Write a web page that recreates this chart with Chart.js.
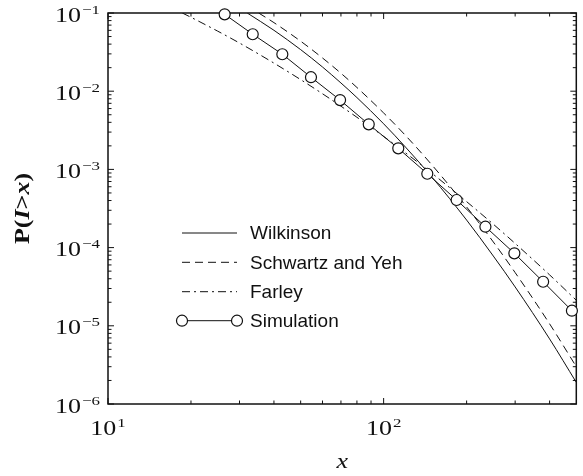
<!DOCTYPE html>
<html>
<head>
<meta charset="utf-8">
<script src="https://cdn.jsdelivr.net/npm/chart.js@4.4.1/dist/chart.umd.min.js"></script>
<style>
  html, body { margin: 0; padding: 0; background: #fff; }
  #wrap { width: 583px; height: 476px; }
</style>
</head>
<body>
<div id="wrap"><canvas id="chart" width="583" height="476"></canvas></div>
<script>
// simulation (circles)
const simX = [26.5, 33.5, 42.9, 54.5, 69.5, 88.3, 113, 144, 184, 234, 298, 379, 482];
const simY = [0.0962, 0.0535, 0.0297, 0.0151, 0.0077, 0.00377, 0.00186, 0.00088, 0.000406, 0.000185, 0.0000845, 0.0000366, 0.0000156];

// Wilkinson (solid)
const wilkX = [32, 40, 50, 60, 70, 80, 100, 120, 150, 200, 250, 300, 400, 500];
const wilkY = [0.1, 0.0601, 0.034, 0.0204, 0.01274, 0.00829, 0.00383, 0.00193, 0.00079, 0.000225, 0.000078, 0.0000314, 0.0000068, 0.00000189];

// Schwartz and Yeh (dashed)
const syX = [35.2, 40, 50, 60, 70, 80, 100, 120, 150, 200, 250, 300, 400, 500];
const syY = [0.1, 0.0753, 0.0436, 0.0266, 0.01696, 0.01116, 0.00527, 0.00272, 0.00113, 0.000331, 0.000118, 0.0000479, 0.0000106, 0.000003];

// Farley (dash-dot)
const farX = [18.6, 20, 25, 30, 40, 50, 60, 70, 80, 100, 120, 150, 200, 250, 300, 400, 500];
const farY = [0.1, 0.0881, 0.0586, 0.0413, 0.02286, 0.01406, 0.00928, 0.00643, 0.00464, 0.00264, 0.00163, 0.000887, 0.000387, 0.000199, 0.000113, 0.0000448, 0.0000212];

// axes
const xMajor = [10, 100];
const xMajorExp = ['1', '2'];
const xMinor = [20, 30, 40, 50, 60, 70, 80, 90, 200, 300, 400];
const yMajor = [1e-6, 1e-5, 1e-4, 1e-3, 1e-2, 1e-1];
const yMajorExp = ['\u22126', '\u22125', '\u22124', '\u22123', '\u22122', '\u22121'];
const yMinorMult = [2, 3, 4, 5, 6, 7, 8, 9];

const legendNames = ['Wilkinson', 'Schwartz and Yeh', 'Farley', 'Simulation'];

const serif = '"Liberation Serif", "Times New Roman", serif';
const sans = '"Liberation Sans", Arial, Helvetica, sans-serif';
const STRETCH = 1.3;

const pts = (xs, ys) => xs.map((x, i) => ({ x: x, y: ys[i] }));

function drawPow(ctx, x, baseY, exp, anchor) {
    ctx.font = '20px ' + serif;
    const wb = ctx.measureText('10').width * STRETCH;
    ctx.font = '13px ' + serif;
    const we = ctx.measureText(exp).width * STRETCH;
    const total = wb + 1 + we;
    const left = anchor === 'right' ? x - total : x - total / 2;
    ctx.save();
    ctx.translate(left, baseY);
    ctx.scale(STRETCH, 1);
    ctx.font = '20px ' + serif;
    ctx.fillText('10', 0, 0);
    ctx.restore();
    ctx.save();
    ctx.translate(left + wb + 1, baseY - 8);
    ctx.scale(STRETCH, 1);
    ctx.font = '13px ' + serif;
    ctx.fillText(exp, 0, 0);
    ctx.restore();
}

const framePlugin = {
    id: 'frame',
    beforeDatasetsDraw(chart) {
        const ctx = chart.ctx;
        const a = chart.chartArea;
        const xs = chart.scales.x;
        const ys = chart.scales.y;
        ctx.save();
        ctx.strokeStyle = '#111';
        ctx.lineWidth = 1.5;
        ctx.strokeRect(a.left, a.top, a.right - a.left, a.bottom - a.top);

        ctx.lineWidth = 1;
        ctx.beginPath();
        xMajor.forEach(v => {
            const p = xs.getPixelForValue(v);
            ctx.moveTo(p, a.bottom); ctx.lineTo(p, a.bottom - 6);
            ctx.moveTo(p, a.top); ctx.lineTo(p, a.top + 6);
        });
        xMinor.forEach(v => {
            const p = xs.getPixelForValue(v);
            ctx.moveTo(p, a.bottom); ctx.lineTo(p, a.bottom - 3.5);
            ctx.moveTo(p, a.top); ctx.lineTo(p, a.top + 3.5);
        });
        yMajor.forEach(v => {
            const p = ys.getPixelForValue(v);
            ctx.moveTo(a.left, p); ctx.lineTo(a.left + 6, p);
            ctx.moveTo(a.right, p); ctx.lineTo(a.right - 6, p);
        });
        yMajor.slice(0, -1).forEach(v => {
            yMinorMult.forEach(m => {
                const p = ys.getPixelForValue(v * m);
                ctx.moveTo(a.left, p); ctx.lineTo(a.left + 3.5, p);
                ctx.moveTo(a.right, p); ctx.lineTo(a.right - 3.5, p);
            });
        });
        ctx.stroke();

        // tick labels
        ctx.fillStyle = '#111';
        ctx.textBaseline = 'alphabetic';
        ctx.textAlign = 'left';
        yMajor.forEach((v, i) => {
            const p = ys.getPixelForValue(v);
            drawPow(ctx, a.left - 8, p + 8.5, yMajorExp[i], 'right');
        });
        xMajor.forEach((v, i) => {
            const p = xs.getPixelForValue(v);
            drawPow(ctx, p, a.bottom + 31, xMajorExp[i], 'center');
        });

        // axis titles
        ctx.save();
        ctx.translate((a.left + a.right) / 2, 468);
        ctx.scale(STRETCH, 1);
        ctx.font = 'italic 20px ' + serif;
        ctx.textAlign = 'center';
        ctx.fillText('x', 0, 0);
        ctx.restore();

        const parts = [['P(', 'bold '], ['I', 'bold italic '], ['>', 'bold '], ['x', 'bold italic '], [')', 'bold ']];
        let w = 0;
        parts.forEach(pt => { ctx.font = pt[1] + '20px ' + serif; w += ctx.measureText(pt[0]).width; });
        ctx.save();
        ctx.translate(29, (a.top + a.bottom) / 2);
        ctx.rotate(-Math.PI / 2);
        ctx.scale(STRETCH, 1);
        let cx = -w / 2;
        parts.forEach(pt => {
            ctx.font = pt[1] + '20px ' + serif;
            ctx.fillText(pt[0], cx, 0);
            cx += ctx.measureText(pt[0]).width;
        });
        ctx.restore();
        ctx.restore();
    },
    afterDatasetsDraw(chart) {
        const ctx = chart.ctx;
        const rows = [233, 262.3, 291.7, 320.7];
        const dashes = [[], [8, 5], [8, 4, 2, 4], []];
        ctx.save();
        ctx.strokeStyle = '#111';
        ctx.fillStyle = '#111';
        ctx.font = '19px ' + sans;
        ctx.textBaseline = 'middle';
        rows.forEach((y, i) => {
            ctx.setLineDash(dashes[i]);
            ctx.lineWidth = 1;
            ctx.beginPath();
            ctx.moveTo(182, y); ctx.lineTo(237, y);
            ctx.stroke();
            ctx.setLineDash([]);
            if (i === 3) {
                [182, 237].forEach(cx => {
                    ctx.beginPath();
                    ctx.arc(cx, y, 5.5, 0, Math.PI * 2);
                    ctx.fillStyle = '#fff';
                    ctx.fill();
                    ctx.lineWidth = 1.2;
                    ctx.stroke();
                });
                ctx.fillStyle = '#111';
            }
            ctx.fillText(legendNames[i], 250, y + 1);
        });
        ctx.restore();
    }
};

new Chart(document.getElementById('chart').getContext('2d'), {
    type: 'line',
    data: {
        datasets: [
            {
                label: 'Simulation',
                data: pts(simX, simY),
                borderColor: '#111',
                borderWidth: 1,
                pointRadius: 5.5,
                pointBackgroundColor: '#fff',
                pointBorderColor: '#111',
                pointBorderWidth: 1.2,
                clip: false
            },
            {
                label: 'Wilkinson',
                data: pts(wilkX, wilkY),
                borderColor: '#111',
                borderWidth: 1,
                pointRadius: 0,
                cubicInterpolationMode: 'monotone'
            },
            {
                label: 'Schwartz and Yeh',
                data: pts(syX, syY),
                borderColor: '#111',
                borderWidth: 1,
                borderDash: [8, 5],
                pointRadius: 0,
                cubicInterpolationMode: 'monotone'
            },
            {
                label: 'Farley',
                data: pts(farX, farY),
                borderColor: '#111',
                borderWidth: 1,
                borderDash: [8, 4, 2, 4],
                pointRadius: 0,
                cubicInterpolationMode: 'monotone'
            }
        ]
    },
    options: {
        responsive: false,
        animation: false,
        events: [],
        layout: { padding: { left: 108, top: 13, right: 3, bottom: 72 } },
        plugins: {
            legend: { display: false },
            tooltip: { enabled: false }
        },
        scales: {
            x: { type: 'logarithmic', min: 10, max: 500, display: false },
            y: { type: 'logarithmic', min: 1e-6, max: 0.1, display: false }
        }
    },
    plugins: [framePlugin]
});
</script>
</body>
</html>
